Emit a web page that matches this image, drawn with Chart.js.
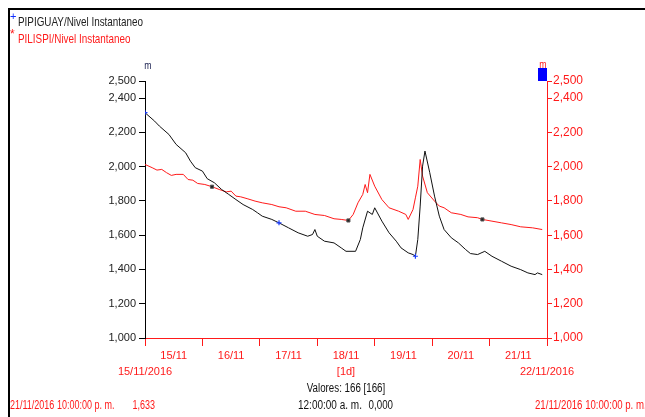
<!DOCTYPE html>
<html>
<head>
<meta charset="utf-8">
<script src="https://cdn.jsdelivr.net/npm/chart.js@4.4.0/dist/chart.umd.min.js"></script>
<style>
html, body { margin: 0; padding: 0; background: #fff; }
canvas { display: block; }
</style>
</head>
<body>
<canvas id="chart" width="645" height="417"></canvas>
<script>
// data (hours since 15/11/2016 00:00)
const pipiguayHours = [0, 4, 6, 10, 13, 17, 19, 21, 24, 26, 29, 32, 35, 38, 41, 45, 47, 49, 53, 56,
  60, 64, 68, 70, 71, 72, 75, 79, 82, 84, 88, 90, 91, 93, 95, 96, 99, 102, 105, 107,
  110, 112, 113, 114, 115, 116, 117, 119, 121, 123, 125, 128, 131, 134, 136, 139, 142, 145, 149, 153,
  157, 160, 163, 164, 166]
const pipiguayLevels = [2315, 2266, 2237, 2188, 2130, 2081, 2032, 1994, 1974, 1930, 1906, 1867, 1838, 1808, 1779, 1750, 1731, 1711, 1692, 1672,
  1643, 1614, 1594, 1604, 1633, 1594, 1565, 1555, 1526, 1506, 1506, 1575, 1643, 1740, 1721, 1760, 1682, 1614, 1565, 1526,
  1497, 1487, 1477, 1575, 1770, 2003, 2091, 1965, 1828, 1711, 1633, 1585, 1555, 1516, 1493, 1487, 1506, 1477, 1448, 1419,
  1399, 1380, 1370, 1380, 1370]

const pilispiHours = [0, 3, 5, 7, 9, 11, 13, 16, 18, 20, 22, 25, 28, 31, 34, 36, 38, 40, 43, 46,
  49, 53, 56, 59, 63, 67, 71, 75, 79, 82, 85, 87, 89, 91, 92, 93, 94, 96, 99, 102,
  106, 109, 110, 112, 113, 114, 115, 116, 118, 121, 123, 125, 128, 132, 135, 139, 141, 145, 149, 153,
  157, 162, 166]
const pilispiLevels = [2013, 1994, 1980, 1984, 1965, 1949, 1955, 1955, 1925, 1921, 1902, 1896, 1883, 1867, 1853, 1857, 1828, 1824, 1812, 1799,
  1789, 1779, 1766, 1760, 1740, 1740, 1721, 1715, 1696, 1692, 1686, 1721, 1789, 1838, 1896, 1848, 1955, 1886, 1808, 1760,
  1740, 1721, 1692, 1750, 1818, 1886, 2042, 1945, 1848, 1799, 1770, 1760, 1731, 1721, 1707, 1702, 1692, 1682, 1672, 1662,
  1649, 1643, 1633]

const pipiguayMarks = [0, 56, 113]
const pilispiMarks = [28, 85, 141]

const levelTicks = [1000, 1200, 1400, 1600, 1800, 2000, 2200, 2400, 2500]
const dayTicks = [0, 24, 48, 72, 96, 120, 144, 168]
const dayLabels = ['15/11', '16/11', '17/11', '18/11', '19/11', '20/11', '21/11', '']
const spanTicks = [0, 84, 168]
const spanLabels = ['15/11/2016', '[1d]', '22/11/2016']

const RED = '#ff1a1a'
const NARROW = "'Liberation Sans Narrow', 'Arial Narrow', 'Liberation Sans', sans-serif"
const SANS = "'Liberation Sans', Arial, sans-serif"

const toPoints = (hours, levels) => hours.map((h, i) => ({ x: h, y: levels[i] }))
const fmt = v => v.toLocaleString('en-US')

// squeezed text, like the original screenshot
const text = (ctx, str, x, y, color, size, sx, align) => {
	ctx.save()
	ctx.translate(x, y)
	ctx.scale(sx, 1)
	ctx.font = `${size}px ${SANS}`
	ctx.fillStyle = color
	ctx.textAlign = align || 'left'
	ctx.textBaseline = 'middle'
	ctx.fillText(str, 0, 0)
	ctx.restore()
}

const decor = {
	id: 'decor',
	beforeDraw(chart) {
		const ctx = chart.ctx
		ctx.save()
		ctx.fillStyle = '#fff'
		ctx.fillRect(0, 0, chart.width, chart.height)
		ctx.strokeStyle = '#000'
		ctx.lineWidth = 2
		ctx.beginPath()
		ctx.moveTo(8, 9)
		ctx.lineTo(645, 9)
		ctx.moveTo(9, 8)
		ctx.lineTo(9, 417)
		ctx.stroke()
		ctx.restore()
	},
	afterDraw(chart) {
		const ctx = chart.ctx
		// legend
		text(ctx, '+', 10, 17, '#1030ff', 11, 1)
		text(ctx, 'PIPIGUAY/Nivel Instantaneo', 18, 22, '#222', 13, 0.76)
		text(ctx, '*', 10, 35, RED, 12, 1)
		text(ctx, 'PILISPI/Nivel Instantaneo', 18, 39, RED, 13, 0.76)
		// units
		text(ctx, 'm', 148, 66, '#1a2050', 11, 0.8, 'center')
		text(ctx, 'm', 543, 65, RED, 11, 0.8, 'center')
		ctx.fillStyle = '#0000ff'
		ctx.fillRect(538, 68, 9, 13)
		// footer
		text(ctx, 'Valores: 166 [166]', 346, 389, '#111', 12.5, 0.78, 'center')
		text(ctx, '12:00:00 a. m.', 298, 406, '#111', 12.5, 0.8)
		text(ctx, '0,000', 393, 406, '#111', 12.5, 0.78, 'right')
		text(ctx, '21/11/2016 10:00:00 p. m.', 10, 406, RED, 12.5, 0.72)
		text(ctx, '1,633', 155, 406, RED, 12.5, 0.72, 'right')
		text(ctx, '21/11/2016 10:00:00 p. m.', 535, 406, RED, 12.5, 0.77)
	}
}

const ctx = document.querySelector('#chart')

const chart = new Chart(ctx, {
	type: 'line',
	data: {
		datasets: [
			{
				label: 'PIPIGUAY/Nivel Instantaneo',
				data: toPoints(pipiguayHours, pipiguayLevels),
				yAxisID: 'y',
				borderColor: '#111',
				borderWidth: 1,
				tension: 0,
				pointStyle: 'cross',
				pointRadius: c => pipiguayMarks.includes(c.raw.x) ? 2.5 : 0,
				pointBorderColor: '#1a3cff',
				pointBorderWidth: 1.2
			},
			{
				label: 'PILISPI/Nivel Instantaneo',
				data: toPoints(pilispiHours, pilispiLevels),
				yAxisID: 'y2',
				borderColor: RED,
				borderWidth: 1,
				tension: 0,
				pointStyle: 'rect',
				pointRadius: c => pilispiMarks.includes(c.raw.x) ? 2.2 : 0,
				pointBackgroundColor: '#222',
				pointBorderColor: '#555',
				pointBorderWidth: 1
			}
		]
	},
	options: {
		responsive: false,
		animation: false,
		layout: { padding: { top: 81, left: 0, right: 0, bottom: 0 } },
		plugins: {
			legend: { display: false },
			tooltip: { enabled: false }
		},
		scales: {
			x: {
				type: 'linear',
				position: 'bottom',
				min: 0,
				max: 168,
				afterBuildTicks: s => { s.ticks = dayTicks.map(v => ({ value: v })) },
				afterFit: s => { s.height = 24 },
				ticks: {
					autoSkip: false,
					maxRotation: 0,
					labelOffset: 28.7,
					padding: 3,
					color: RED,
					font: { size: 11, family: NARROW },
					callback: (v, i) => dayLabels[i]
				},
				grid: { drawOnChartArea: false, tickLength: 8, color: RED },
				border: { color: RED }
			},
			x2: {
				type: 'linear',
				position: 'bottom',
				min: 0,
				max: 168,
				afterBuildTicks: s => { s.ticks = spanTicks.map(v => ({ value: v })) },
				afterFit: s => { s.height = 55 },
				ticks: {
					autoSkip: false,
					maxRotation: 0,
					padding: 3,
					color: RED,
					font: { size: 11, family: NARROW },
					callback: (v, i) => spanLabels[i]
				},
				grid: { display: false, drawTicks: false },
				border: { display: false }
			},
			y: {
				position: 'left',
				min: 1000,
				max: 2500,
				afterBuildTicks: s => { s.ticks = levelTicks.map(v => ({ value: v })) },
				afterFit: s => { s.width = 145 },
				ticks: {
					padding: 3,
					color: '#222',
					font: { size: 11, family: SANS },
					callback: v => fmt(v)
				},
				grid: { drawOnChartArea: false, tickLength: 6, color: '#000' },
				border: { color: '#000' }
			},
			y2: {
				position: 'right',
				min: 1000,
				max: 2500,
				afterBuildTicks: s => { s.ticks = levelTicks.map(v => ({ value: v })) },
				afterFit: s => { s.width = 98 },
				ticks: {
					padding: 1,
					color: RED,
					font: { size: 12, family: NARROW },
					callback: v => fmt(v)
				},
				grid: { drawOnChartArea: false, tickLength: 5, color: RED },
				border: { color: RED }
			}
		}
	},
	plugins: [decor]
})
</script>
</body>
</html>
